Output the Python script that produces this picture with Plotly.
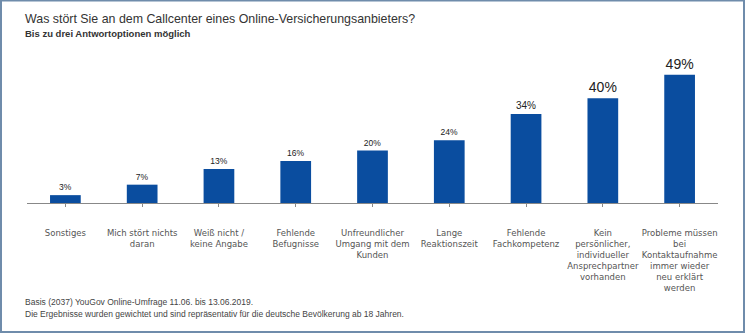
import plotly.graph_objects as go

categories = [
    "Sonstiges",
    "Mich stört nichts<br>daran",
    "Weiß nicht /<br>keine Angabe",
    "Fehlende<br>Befugnisse",
    "Unfreundlicher<br>Umgang mit dem<br>Kunden",
    "Lange<br>Reaktionszeit",
    "Fehlende<br>Fachkompetenz",
    "Kein<br>persönlicher,<br>individueller<br>Ansprechpartner<br>vorhanden",
    "Probleme müssen<br>bei<br>Kontaktaufnahme<br>immer wieder<br>neu erklärt<br>werden",
]
values = [3, 7, 13, 16, 20, 24, 34, 40, 49]
label_sizes = [8.5, 8.5, 8.5, 8.5, 8.5, 8.5, 10, 14, 14]

W, H = 746, 334
ML, MR, MT, MB = 27, 28, 60, 131
PW, PH = W - ML - MR, H - MT - MB

FONT = "Liberation Sans"
CAT_FONT = "DejaVu Sans"
BAR = "#0a4d9f"

fig = go.Figure(
    go.Bar(
        x=list(range(len(categories))),
        y=values,
        width=0.4,
        marker=dict(color=BAR, line=dict(width=0)),
        text=[f"{v}%" for v in values],
        textposition="outside",
        textfont=dict(family=FONT, size=label_sizes, color="#222222"),
        cliponaxis=False,
        hoverinfo="skip",
    )
)

fig.update_xaxes(
    range=[-0.5, len(categories) - 0.5],
    tickmode="array",
    tickvals=list(range(len(categories))),
    ticktext=categories,
    tickson="boundaries",
    ticks="outside",
    ticklen=3,
    tickcolor="#888888",
    showline=True,
    linecolor="#888888",
    linewidth=1,
    showgrid=False,
    zeroline=False,
    tickfont=dict(family=CAT_FONT, size=8.5, color="#555555"),
    ticklabelstandoff=19,
)
fig.update_yaxes(range=[0, 54.6], visible=False, showgrid=False, zeroline=False)


def px_x(x):
    return (x - ML) / PW


def px_y(y):
    return 1 - (y - MT) / PH


annotations = [
    dict(text="Was stört Sie an dem Callcenter eines Online-Versicherungsanbieters?",
         x=px_x(23), y=px_y(19), font=dict(family=FONT, size=12.4, color="#333333")),
    dict(text="<b>Bis zu drei Antwortoptionen möglich</b>",
         x=px_x(23), y=px_y(34), font=dict(family=FONT, size=9.5, color="#333333")),
    dict(text="Basis (2037) YouGov Online-Umfrage 11.06. bis 13.06.2019.",
         x=px_x(23), y=px_y(302), font=dict(family=FONT, size=8.5, color="#444444")),
    dict(text="Die Ergebnisse wurden gewichtet und sind repräsentativ für die deutsche Bevölkerung ab 18 Jahren.",
         x=px_x(23), y=px_y(314), font=dict(family=FONT, size=8.5, color="#444444")),
]
for a in annotations:
    a.update(xref="paper", yref="paper", xanchor="left", yanchor="middle", showarrow=False)

# outer frame around the whole graphic
shapes = [
    dict(type="rect", xref="paper", yref="paper",
         x0=px_x(1), x1=px_x(744), y0=px_y(332), y1=px_y(0.5),
         line=dict(color="#6f8cab", width=2), fillcolor="rgba(0,0,0,0)", layer="below"),
]

fig.update_layout(
    width=W,
    height=H,
    margin=dict(l=ML, r=MR, t=MT, b=MB),
    paper_bgcolor="white",
    plot_bgcolor="white",
    showlegend=False,
    annotations=annotations,
    shapes=shapes,
    bargap=0.6,
)

fig.write_html("out.html")
